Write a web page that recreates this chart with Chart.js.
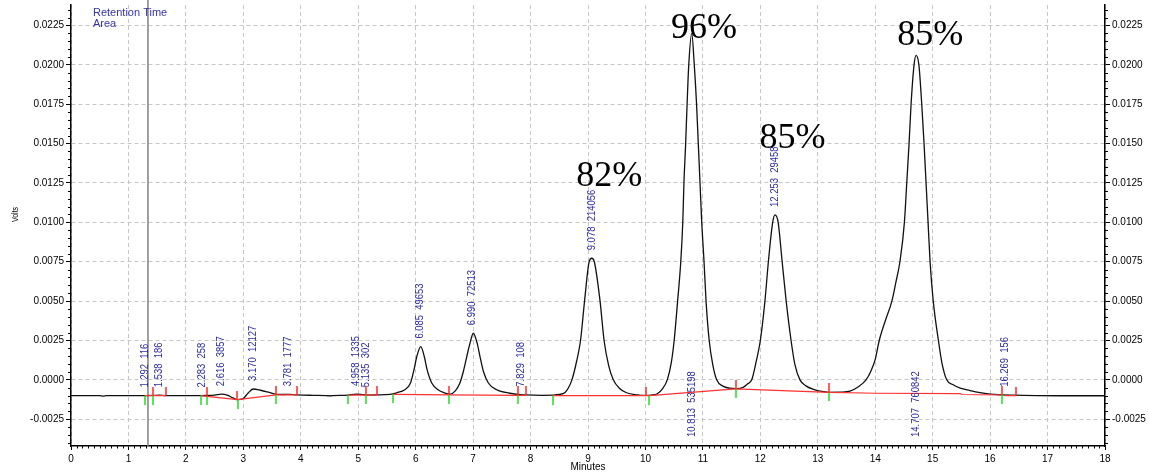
<!DOCTYPE html>
<html>
<head>
<meta charset="utf-8">
<script src="https://cdn.jsdelivr.net/npm/chart.js@4/dist/chart.umd.min.js"></script>
<style>
  html, body { margin: 0; padding: 0; background: #fff; }
  #wrap { width: 1149px; height: 472px; }
</style>
</head>
<body>
<div id="wrap"><canvas id="chart" width="1149" height="472"></canvas></div>
<script>
// Detector trace (minutes / volts)
const traceTime = [
  0.00, 0.50, 0.56, 0.62, 1.00, 1.29, 1.43, 1.54, 1.65, 2.00, 2.26, 2.36, 2.50, 2.62, 2.72, 2.82, 2.90,
  3.00, 3.08, 3.17, 3.30, 3.45, 3.57, 3.70, 3.80, 3.93, 4.20, 4.45, 4.50, 4.55, 4.82, 4.96, 5.05, 5.14,
  5.32, 5.55, 5.67, 5.81, 5.91, 5.97, 6.02, 6.088, 6.15, 6.20, 6.28, 6.39, 6.50, 6.60, 6.69, 6.77, 6.83,
  6.89, 6.946, 7.004, 7.07, 7.12, 7.18, 7.265, 7.41, 7.64, 7.83, 7.92, 8.20, 8.39, 8.50, 8.60, 8.66, 8.72,
  8.80, 8.87, 8.94, 9.02, 9.065, 9.11, 9.21, 9.28, 9.36, 9.44, 9.55, 9.67, 9.85, 10.00, 10.10, 10.20,
  10.30, 10.38, 10.45, 10.50, 10.56, 10.615, 10.65, 10.67, 10.70, 10.725, 10.754, 10.806, 10.85, 10.89,
  10.92, 10.95, 10.98, 11.02, 11.055, 11.11, 11.17, 11.24, 11.35, 11.47, 11.58, 11.70, 11.78, 11.85,
  11.93, 12.00, 12.08, 12.14, 12.215, 12.256, 12.31, 12.38, 12.45, 12.535, 12.60, 12.69, 12.80, 12.95,
  13.10, 13.20, 13.40, 13.56, 13.70, 13.84, 13.93, 14.00, 14.07, 14.18, 14.29, 14.36, 14.43, 14.508,
  14.549, 14.589, 14.624, 14.676, 14.711, 14.76, 14.81, 14.85, 14.885, 14.92, 14.955, 15.01, 15.10,
  15.16, 15.245, 15.35, 15.48, 15.65, 15.80, 16.00, 16.20, 16.45, 16.81, 17.20, 18.00
];
const traceVolts = [
  -0.00100, -0.00100, -0.00103, -0.00100, -0.00100, -0.00100, -0.00099, -0.00097, -0.00100, -0.00100,
  -0.00100, -0.00099, -0.00097, -0.00091, -0.00097, -0.00115, -0.00126,
  -0.00118, -0.00085, -0.00058, -0.00066, -0.00080, -0.00092, -0.00093, -0.00092, -0.00095, -0.00098,
  -0.00100, -0.00102, -0.00100, -0.00097, -0.00090, -0.00092, -0.00097,
  -0.00096, -0.00092, -0.00082, -0.00063, -0.00020, 0.00063, 0.00148, 0.00211, 0.00148, 0.00063,
  -0.00020, -0.00063, -0.00082, -0.00090, -0.00070, -0.00020, 0.00053,
  0.00148, 0.00233, 0.00296, 0.00233, 0.00148, 0.00053, -0.00020, -0.00063, -0.00085, -0.00094,
  -0.00096, -0.00098, -0.00097, -0.00093, -0.00080, -0.00050, 0.00000,
  0.00115, 0.00250, 0.00500, 0.00750, 0.00772, 0.00750, 0.00500, 0.00250, 0.00090, 0.00000, -0.00055,
  -0.00082, -0.00095, -0.00099, -0.00097, -0.00090,
  -0.00055, 0.00000, 0.00110, 0.00250, 0.00500, 0.00750, 0.01000, 0.01250, 0.01500, 0.01750, 0.02000,
  0.02200, 0.02000, 0.01750,
  0.01500, 0.01250, 0.01000, 0.00750, 0.00500, 0.00250, 0.00100, 0.00000, -0.00040, -0.00053, -0.00056,
  -0.00048, -0.00025, 0.00000,
  0.00120, 0.00250, 0.00500, 0.00750, 0.01000, 0.01047, 0.01000, 0.00750, 0.00500, 0.00250, 0.00100,
  0.00000, -0.00040, -0.00063,
  -0.00075, -0.00079, -0.00078, -0.00072, -0.00045, 0.00000, 0.00060, 0.00130, 0.00250, 0.00380,
  0.00500, 0.00620, 0.00750, 0.01000,
  0.01250, 0.01500, 0.01750, 0.02000, 0.02060, 0.02000, 0.01750, 0.01500, 0.01250, 0.01000, 0.00750,
  0.00500, 0.00250,
  0.00110, 0.00000, -0.00030, -0.00053, -0.00068, -0.00080, -0.00091, -0.00095, -0.00097, -0.00100,
  -0.00101, -0.00101
];

// Integration baseline (red), null = break between segments
const baseTime = [
  1.29, 1.65, 1.66,
  2.26, 2.36, 2.90, 3.57, 3.93, 3.94,
  4.82, 5.32, 5.33,
  5.61, 6.58, 7.78, 7.92, 7.93,
  8.39, 10.00, 10.07, 11.57, 13.20, 14.00, 15.48, 15.50, 16.20, 16.21,
  16.25, 16.45
];
const baseVolts = [
  -0.00100, -0.00100, null,
  -0.00100, -0.00105, -0.00126, -0.00095, -0.00095, null,
  -0.00097, -0.00097, null,
  -0.00092, -0.00095, -0.00098, -0.00098, null,
  -0.00100, -0.00100, -0.00100, -0.00057, -0.00080, -0.00085, -0.00087, -0.00093, -0.00095, null,
  -0.00100, -0.00100
];

// Peak start/end event marks
const redMarkTime = [1.43, 1.65, 2.36, 2.89, 3.57, 3.93, 5.14, 5.32, 6.58, 7.78, 7.92, 10.01, 11.57, 13.20, 16.20, 16.45];
const redMarkLevel = [-0.00100, -0.00100, -0.00105, -0.00126, -0.00095, -0.00095, -0.00097, -0.00097,
  -0.00095, -0.00098, -0.00098, -0.00100, -0.00057, -0.00080, -0.00095, -0.00100];
const greenMarkTime = [1.29, 1.43, 2.26, 2.36, 2.91, 3.57, 4.82, 5.14, 5.61, 6.58, 7.78, 8.39, 10.07, 11.57, 13.20, 16.20];
const greenMarkLevel = [-0.00100, -0.00100, -0.00100, -0.00105, -0.00126, -0.00095, -0.00097, -0.00097,
  -0.00092, -0.00095, -0.00098, -0.00100, -0.00100, -0.00057, -0.00080, -0.00095];

// Peak labels: retention time and area
const peakTimes = [1.292, 1.538, 2.283, 2.616, 3.170, 3.781, 4.958, 5.135, 6.085, 6.990, 7.829, 9.078, 10.813, 12.253, 14.707, 16.269];
const peakTexts = ['1.292  116', '1.538  186', '2.283  258', '2.616  3857', '3.170  12127', '3.781  1777',
  '4.958  1335', '5.135  302', '6.085  49653', '6.990  72513', '7.829  108', '9.078  214056',
  '10.813  535198', '12.253  29458', '14.707  760842', '16.269  156'];

// Percent annotations
const noteTexts = ['82%', '96%', '85%', '85%'];
const noteTimes = [9.37, 11.02, 12.56, 14.96];
const noteLevels = [0.01231, 0.0217, 0.01472, 0.02126];

const cursorTime = 1.34;
const xTicks = [0, 1, 2, 3, 4, 5, 6, 7, 8, 9, 10, 11, 12, 13, 14, 15, 16, 17, 18];
const yTicks = [-0.0025, 0, 0.0025, 0.005, 0.0075, 0.01, 0.0125, 0.015, 0.0175, 0.02, 0.0225];

const FONT = 'Arial, "Liberation Sans", sans-serif';

function makeMark(color, up) {
  const c = document.createElement('canvas');
  c.width = 2;
  c.height = 18;
  const g = c.getContext('2d');
  g.fillStyle = color;
  g.fillRect(0.25, up ? 0 : 9, 1.5, 9);
  return c;
}

function fmtVolts(v) {
  if (Math.abs(v) < 1e-9) return '0.0000';
  return v.toFixed(4);
}

const decor = {
  id: 'decor',
  beforeDatasetsDraw(chart) {
    const { ctx, chartArea, scales } = chart;
    const x = scales.x.getPixelForValue(cursorTime);
    ctx.save();
    ctx.strokeStyle = '#808080';
    ctx.lineWidth = 1.5;
    ctx.beginPath();
    ctx.moveTo(x, 0);
    ctx.lineTo(x, chartArea.bottom);
    ctx.stroke();
    ctx.restore();
  },
  afterDatasetsDraw(chart) {
    const { ctx, chartArea, scales } = chart;
    const xs = scales.x, ys = scales.y;
    ctx.save();
    // peak labels
    ctx.fillStyle = '#2b2b9e';
    ctx.font = '10.5px ' + FONT;
    ctx.textAlign = 'left';
    ctx.textBaseline = 'middle';
    peakTimes.forEach((t, i) => {
      let apex = -Infinity;
      traceTime.forEach((tt, j) => { if (Math.abs(tt - t) <= 0.08) apex = Math.max(apex, traceVolts[j]); });
      const len = ctx.measureText(peakTexts[i]).width * 0.9;
      let y0 = ys.getPixelForValue(apex) - 8;
      if (y0 - len < chartArea.top + 4) y0 = chartArea.bottom - 9;
      ctx.save();
      ctx.translate(xs.getPixelForValue(t), y0);
      ctx.rotate(-Math.PI / 2);
      ctx.scale(0.9, 1);
      ctx.fillText(peakTexts[i], 0, 0);
      ctx.restore();
    });
    // percent annotations
    ctx.fillStyle = '#000';
    ctx.font = '36px "Liberation Serif", "Times New Roman", serif';
    ctx.textAlign = 'center';
    ctx.textBaseline = 'alphabetic';
    noteTexts.forEach((s, i) => {
      ctx.fillText(s, xs.getPixelForValue(noteTimes[i]), ys.getPixelForValue(noteLevels[i]));
    });
    ctx.restore();
  },
  afterDraw(chart) {
    const { ctx, chartArea, scales } = chart;
    const xs = scales.x, ys = scales.y;
    ctx.save();
    ctx.strokeStyle = '#000';
    ctx.lineWidth = 1;
    ctx.beginPath();
    // minor ticks, x every 0.1 min
    for (let i = 1; i < 180; i++) {
      if (i % 10 === 0) continue;
      const px = Math.round(xs.getPixelForValue(i / 10)) + 0.5;
      ctx.moveTo(px, chartArea.bottom);
      ctx.lineTo(px, chartArea.bottom + 2.5);
    }
    // minor ticks, y every 0.0005 V
    for (let i = -8; i <= 47; i++) {
      if (i % 5 === 0) continue;
      const py = Math.round(ys.getPixelForValue(i * 0.0005)) + 0.5;
      ctx.moveTo(chartArea.left - 3, py);
      ctx.lineTo(chartArea.left, py);
      ctx.moveTo(chartArea.right, py);
      ctx.lineTo(chartArea.right + 3, py);
    }
    ctx.stroke();

    // header and axis titles
    ctx.fillStyle = '#3333a8';
    ctx.font = '11px ' + FONT;
    ctx.textAlign = 'left';
    ctx.textBaseline = 'middle';
    ctx.fillText('Retention Time', 93, 13);
    ctx.fillText('Area', 93, 24);

    ctx.fillStyle = '#000';
    ctx.font = '10px ' + FONT;
    ctx.textAlign = 'center';
    ctx.fillText('Minutes', xs.getPixelForValue(9), 467);
    ctx.save();
    ctx.translate(16, ys.getPixelForValue(0.0105));
    ctx.rotate(-Math.PI / 2);
    ctx.scale(0.78, 1);
    ctx.font = '9px ' + FONT;
    ctx.fillText('Volts', 0, 0);
    ctx.restore();
    ctx.restore();
  }
};

const gridCommon = {
  color: '#c6c6c6',
  lineWidth: 1,
  tickColor: '#000',
  tickWidth: 1,
  tickBorderDash: []
};

function yAxis(position, width, onArea) {
  return {
    type: 'linear',
    position,
    min: -0.0042,
    max: 0.0238,
    afterBuildTicks: s => { s.ticks = yTicks.map(v => ({ value: v })); },
    afterFit: s => { s.width = width; s.paddingTop = 0; s.paddingBottom = 0; },
    ticks: {
      callback: v => fmtVolts(v),
      color: '#000',
      padding: 2,
      autoSkip: false,
      font: { family: FONT, size: 10 }
    },
    grid: Object.assign({}, gridCommon, { tickLength: 5, drawOnChartArea: onArea }),
    border: { color: '#000', width: 1.5, dash: [4, 3] }
  };
}

new Chart(document.getElementById('chart'), {
  type: 'line',
  data: {
    datasets: [
      {
        label: 'start marks',
        data: redMarkTime.map((t, i) => ({ x: t, y: redMarkLevel[i] })),
        showLine: false,
        pointStyle: makeMark('#ff2a2a', true),
        pointRadius: 4,
        order: 1
      },
      {
        label: 'end marks',
        data: greenMarkTime.map((t, i) => ({ x: t, y: greenMarkLevel[i] })),
        showLine: false,
        pointStyle: makeMark('#22dd22', false),
        pointRadius: 4,
        order: 1
      },
      {
        label: 'baseline',
        data: baseTime.map((t, i) => ({ x: t, y: baseVolts[i] })),
        borderColor: '#ff3030',
        borderWidth: 1.2,
        pointRadius: 0,
        spanGaps: false,
        order: 2
      },
      {
        label: 'trace',
        data: traceTime.map((t, i) => ({ x: t, y: traceVolts[i] })),
        borderColor: '#111',
        borderWidth: 1.3,
        pointRadius: 0,
        cubicInterpolationMode: 'monotone',
        order: 3
      }
    ]
  },
  options: {
    responsive: false,
    animation: false,
    events: [],
    layout: { padding: { top: 5, left: 0, right: 0, bottom: 0 }, autoPadding: false },
    plugins: { legend: { display: false }, tooltip: { enabled: false } },
    scales: {
      x: {
        type: 'linear',
        min: 0,
        max: 18,
        afterBuildTicks: s => { s.ticks = xTicks.map(v => ({ value: v })); },
        afterFit: s => { s.height = 26; },
        ticks: {
          color: '#000',
          padding: 3,
          autoSkip: false,
          maxRotation: 0,
          font: { family: FONT, size: 10 }
        },
        grid: Object.assign({}, gridCommon, { tickLength: 4 }),
        border: { color: '#000', width: 1.5, dash: [4, 3] }
      },
      y: yAxis('left', 71, true),
      y1: yAxis('right', 44, false)
    }
  },
  plugins: [decor]
});
</script>
</body>
</html>
